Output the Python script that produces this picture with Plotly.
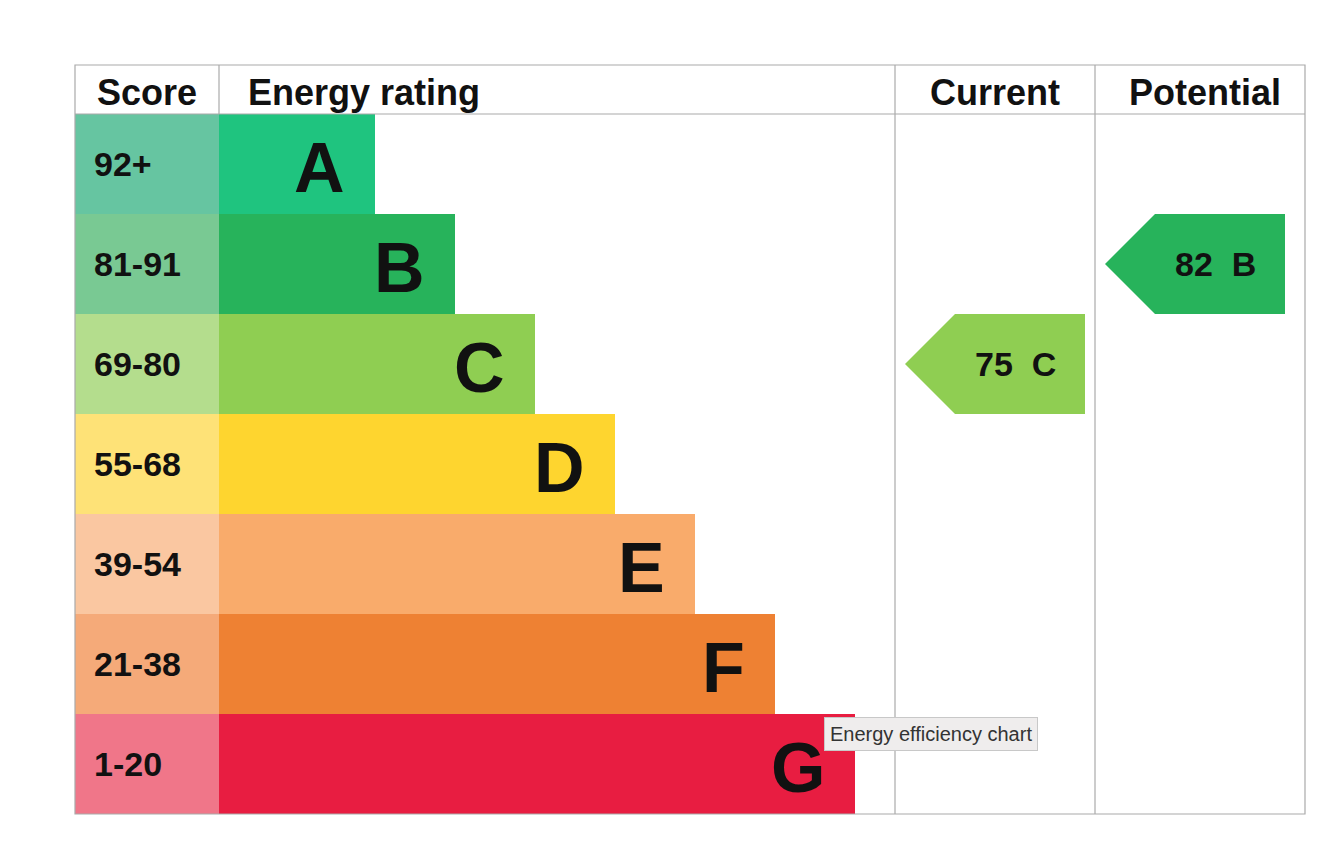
import plotly.graph_objects as go

bands = ["A", "B", "C", "D", "E", "F", "G"]
scores = ["92+", "81-91", "69-80", "55-68", "39-54", "21-38", "1-20"]
bar_len = [156, 236, 316, 396, 476, 556, 636]
colors = ["#1fc47f", "#27b35b", "#8fce52", "#fed52f", "#f9ab6b", "#ee8133", "#e81d41"]
score_colors = ["#66c5a1", "#79c993", "#b4dd8d", "#fee277", "#fac7a1", "#f5aa79", "#f07689"]
current = (75, "C")
potential = (82, "B")

X0, XS, XE, XC, XP, X1 = 67, 211, 887, 1087, 1297, 1297
Y0, YH, RH = 57, 106, 100
FONT = "Liberation Sans, Arial, sans-serif"

fig = go.Figure()
yc = [YH + RH * i + RH / 2 for i in range(7)]
fig.add_trace(go.Bar(orientation="h", y=yc, x=[XS - X0] * 7, base=X0, width=RH,
                     marker=dict(color=score_colors, line=dict(width=0)), hoverinfo="skip"))
fig.add_trace(go.Bar(orientation="h", y=yc, x=bar_len, base=XS, width=RH,
                     marker=dict(color=colors, line=dict(width=0)), hoverinfo="skip"))

ann = []
for i in range(7):
    ann.append(dict(x=84, y=yc[i], text=f"<b>{scores[i]}</b>", xanchor="left", showarrow=False,
                    font=dict(size=34, color="#111", family=FONT)))
    ann.append(dict(x=XS + bar_len[i] - 28, y=yc[i] + 4, text=f"<b>{bands[i]}</b>", xanchor="right",
                    showarrow=False, font=dict(size=70, color="#111", family=FONT)))

def arrow(val, band, left, right):
    i = bands.index(band)
    top, bot = YH + RH * i, YH + RH * (i + 1)
    xs = [left, left + 50, right, right, left + 50, left]
    ys = [(top + bot) / 2, top, top, bot, bot, (top + bot) / 2]
    fig.add_trace(go.Scatter(x=xs, y=ys, fill="toself", fillcolor=colors[i], mode="lines",
                             line=dict(width=0), hoverinfo="skip"))
    ann.append(dict(x=(left + 50 + right) / 2 - 5, y=(top + bot) / 2, text=f"<b>{val}  {band}</b>",
                    showarrow=False, font=dict(size=34, color="#111", family=FONT)))

arrow(*current, 897, 1077)
arrow(*potential, 1097, 1277)

for txt, x, anchor in [("Score", 139, "center"), ("Energy rating", 238, "left"),
                       ("Current", 987, "center"), ("Potential", 1197, "center")]:
    ann.append(dict(x=x, y=84, text=f"<b>{txt}</b>", xanchor=anchor, showarrow=False,
                    font=dict(size=36, color="#111", family=FONT)))

ann.append(dict(x=923, y=726, text="Energy efficiency chart", showarrow=False,
                bgcolor="#efeded", bordercolor="#c8c8c8", borderwidth=1, borderpad=5,
                font=dict(size=20, color="#333", family=FONT)))

lc = dict(color="#aaaaaa", width=1.2)
shapes = [
    dict(type="rect", x0=X0, x1=X1, y0=Y0, y1=806, line=lc),
    dict(type="line", x0=X0, x1=X1, y0=YH, y1=YH, line=lc),
    dict(type="line", x0=XS, x1=XS, y0=Y0, y1=YH, line=lc),
    dict(type="line", x0=XE, x1=XE, y0=Y0, y1=806, line=lc),
    dict(type="line", x0=XC, x1=XC, y0=Y0, y1=806, line=lc),
]

fig.update_layout(width=1344, height=867, margin=dict(l=0, r=0, t=0, b=0),
                  paper_bgcolor="white", plot_bgcolor="white", showlegend=False,
                  barmode="overlay", annotations=ann, shapes=shapes,
                  xaxis=dict(range=[0, 1344], visible=False, fixedrange=True),
                  yaxis=dict(range=[867, 0], visible=False, fixedrange=True))
fig.write_html("out.html")
